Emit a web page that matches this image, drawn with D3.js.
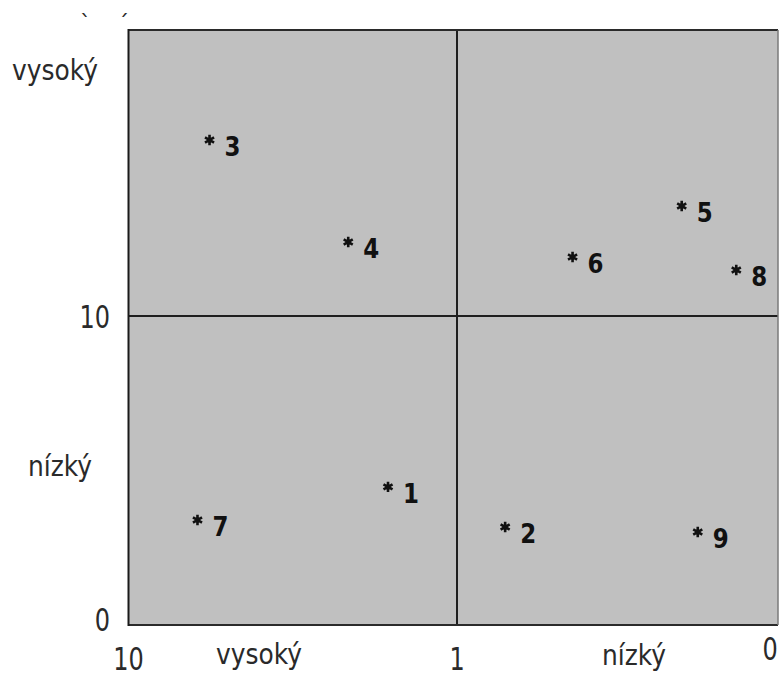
<!DOCTYPE html>
<html>
<head>
<meta charset="utf-8">
<script src="https://cdn.jsdelivr.net/npm/d3@7"></script>
<style>
html,body{margin:0;padding:0;background:#fff;}
svg{display:block;}
</style>
</head>
<body>
<svg id="chart" width="779" height="682"></svg>
<script>
// ---- data ----
const pointIds = ["1","2","3","4","5","6","7","8","9"];
const xValues  = [2.89, 0.85, 7.78, 3.98, 0.30, 0.64, 8.11, 0.13, 0.25];
const yValues  = [4.47, 3.17, 16.15, 12.59, 13.85, 12.06, 3.40, 11.61, 3.01];
const xTickValues = [10, 1, 0];
const xTickLabels = ["10", "1", "0"];
const yTickValues = [0, 10];
const yTickLabels = ["0", "10"];
const xCategoryLabels = ["vysoký", "nízký"];
const yCategoryLabels = ["vysoký", "nízký"];

const svg = d3.select("#chart");
const L = 128.5, R = 778, T = 30, B = 625;

// piecewise scales (axis is not linear: 10 .. 1 .. 0)
const x = d3.scaleLinear().domain([10, 1, 0]).range([L, 457, R]);
const y = d3.scaleLinear().domain([0, 10, 20]).range([B, 316, T]);

// plot background
svg.append("rect")
  .attr("x", L).attr("y", T).attr("width", R - L).attr("height", B - T)
  .attr("fill", "#c0c0c0");

// quadrant lines
svg.append("line").attr("x1", x(1)).attr("x2", x(1)).attr("y1", T).attr("y2", B)
  .attr("stroke", "#1e1e1e").attr("stroke-width", 2);
svg.append("line").attr("x1", L).attr("x2", R).attr("y1", y(10)).attr("y2", y(10))
  .attr("stroke", "#1e1e1e").attr("stroke-width", 2);

// frame
svg.append("line").attr("x1", L).attr("x2", R).attr("y1", T).attr("y2", T).attr("stroke", "#2a2a2a").attr("stroke-width", 2);
svg.append("line").attr("x1", L).attr("x2", R).attr("y1", B).attr("y2", B).attr("stroke", "#2a2a2a").attr("stroke-width", 2);
svg.append("line").attr("x1", L).attr("x2", L).attr("y1", T - 1).attr("y2", B + 1).attr("stroke", "#1a1a1a").attr("stroke-width", 2);
svg.append("line").attr("x1", R).attr("x2", R).attr("y1", T).attr("y2", B).attr("stroke", "#7a7a7a").attr("stroke-width", 1.5);

function label(g, txt, tx, ty, opts) {
  const o = Object.assign({size: 32, sx: 0.75, anchor: "start", weight: "normal", fill: "#2a2a2a"}, opts || {});
  g.append("text")
    .attr("transform", `translate(${tx},${ty}) scale(${o.sx},1)`)
    .attr("text-anchor", o.anchor)
    .attr("font-family", "DejaVu Sans, sans-serif")
    .attr("font-size", o.size)
    .attr("font-weight", o.weight)
    .attr("fill", o.fill)
    .text(txt);
}

// y tick labels
const gy = svg.append("g");
yTickValues.forEach((v, i) => {
  label(gy, yTickLabels[i], 110, y(v) + (v === 0 ? 6 : 12), {anchor: "end"});
});
// x tick labels
const gx = svg.append("g");
const xTickDy = [45, 45, 35];
const xTickDx = [0, 0, -8];
xTickValues.forEach((v, i) => {
  label(gx, xTickLabels[i], x(v) + xTickDx[i], B + xTickDy[i], {anchor: "middle"});
});

// category labels
label(svg, yCategoryLabels[0], 12, 80, {size: 28, sx: 0.89});
label(svg, yCategoryLabels[1], 28, 476, {size: 28, sx: 0.89});
label(svg, xCategoryLabels[0], 216, 664, {size: 28, sx: 0.89});
label(svg, xCategoryLabels[1], 602, 665, {size: 28, sx: 0.89});

// stray marks at top-left
label(svg, "`", 80, 30, {size: 22, sx: 1});
label(svg, "´", 118, 30, {size: 22, sx: 1});

// asterisk symbol
const asterisk = {
  draw(ctx, size) {
    const r = Math.sqrt(size) / 2;
    for (let k = 0; k < 3; k++) {
      const a = Math.PI / 2 + k * Math.PI / 3;
      ctx.moveTo(r * Math.cos(a), r * Math.sin(a));
      ctx.lineTo(-r * Math.cos(a), -r * Math.sin(a));
    }
  }
};
const sym = d3.symbol().type(asterisk).size(110);

const pts = svg.append("g");
pointIds.forEach((id, i) => {
  const px = x(xValues[i]), py = y(yValues[i]);
  pts.append("path")
    .attr("transform", `translate(${px},${py})`)
    .attr("d", sym())
    .attr("stroke", "#111").attr("stroke-width", 2.6).attr("fill", "none");
  pts.append("circle").attr("cx", px).attr("cy", py).attr("r", 2.6).attr("fill", "#111");
  label(pts, id, px + 15, py + 16, {size: 27, sx: 0.85, weight: "bold", fill: "#111"});
});
</script>
</body>
</html>
